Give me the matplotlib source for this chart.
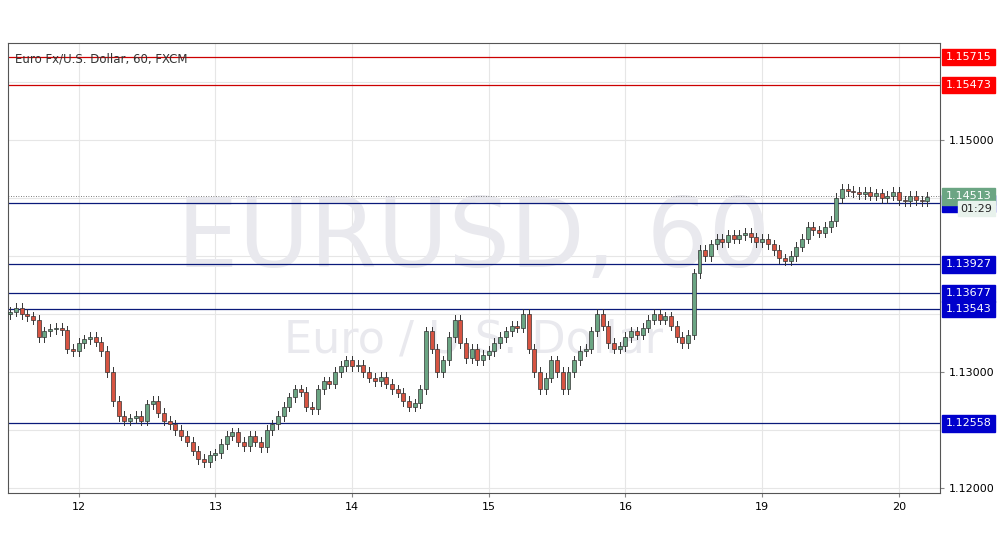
import matplotlib
matplotlib.use("Agg")
import matplotlib.pyplot as plt
from matplotlib.patches import Rectangle

closes = [1.1352,1.1355,1.1350,1.1348,1.1345,1.1330,1.1335,1.1337,1.1338,1.1336,1.1320,1.1318,
1.1325,1.1328,1.1330,1.1326,1.1318,1.1300,1.1275,1.1262,1.1258,1.1260,1.1262,1.1258,
1.1272,1.1275,1.1265,1.1258,1.1255,1.1250,1.1245,1.1240,1.1232,1.1225,1.1222,1.1228,
1.1230,1.1238,1.1245,1.1248,1.1240,1.1236,1.1245,1.1240,1.1235,1.1250,1.1255,1.1262,
1.1270,1.1278,1.1285,1.1283,1.1270,1.1268,1.1285,1.1292,1.1290,1.1300,1.1305,1.1310,
1.1305,1.1306,1.1300,1.1295,1.1292,1.1296,1.1290,1.1285,1.1282,1.1275,1.1270,1.1273,
1.1285,1.1335,1.1320,1.1300,1.1310,1.1330,1.1345,1.1325,1.1312,1.1320,1.1310,1.1315,
1.1318,1.1325,1.1330,1.1335,1.1340,1.1338,1.1350,1.1320,1.1300,1.1285,1.1295,1.1310,
1.1300,1.1285,1.1300,1.1310,1.1318,1.1320,1.1335,1.1350,1.1340,1.1325,1.1320,1.1322,
1.1330,1.1335,1.1332,1.1338,1.1345,1.1350,1.1345,1.1348,1.1340,1.1330,1.1325,1.1332,
1.1385,1.1405,1.1400,1.1410,1.1415,1.1412,1.1418,1.1415,1.1418,1.1420,1.1416,1.1412,
1.1415,1.1410,1.1405,1.1398,1.1396,1.1400,1.1408,1.1415,1.1425,1.1422,1.1420,1.1425,
1.1430,1.1450,1.1458,1.1456,1.1455,1.1453,1.1455,1.1452,1.1454,1.1450,1.1452,1.1455,
1.1448,1.1447,1.1452,1.1448,1.1447,1.1451]
first_open = 1.1350
day_labels = ["12","13","14","15","16","19","20"]
day_index = [12,36,60,84,108,132,156]
blue_levels = [1.14453,1.13927,1.13677,1.13543,1.12558]
red_levels = [1.15715,1.15473]
last_price = 1.14513
grid_ticks = [1.12000,1.12500,1.13000,1.13500,1.14000,1.14500,1.15000,1.15500]
label_ticks = [1.12000,1.13000,1.15000]

fig = plt.figure(figsize=(10.02,5.57), dpi=100)
ax = fig.add_axes([0.008,0.115,0.93,0.808])
ax.set_xlim(-0.4,163.2)
ax.set_ylim(1.11957,1.15836)

up, dn = "#6ba583", "#d75442"
opens = [first_open]+closes[:-1]
wick = 0.0004
for i,(o,c) in enumerate(zip(opens,closes)):
    hi, lo = max(o,c)+wick, min(o,c)-wick
    ax.plot([i,i],[lo,hi],color="#333333",lw=0.7,zorder=3)
    col = up if c>=o else dn
    h = max(abs(c-o),0.00005)
    ax.add_patch(Rectangle((i-0.35,min(o,c)),0.7,h,facecolor=col,edgecolor="#333333",lw=0.5,zorder=4))

for v in blue_levels:
    ax.axhline(v,color="#0a1a7a",lw=0.9,zorder=2)
for v in red_levels:
    ax.axhline(v,color="#cc0000",lw=0.9,zorder=2)
ax.axhline(last_price,color="#555555",lw=0.6,ls=(0,(1,2)),zorder=2)

ax.set_xticks(day_index)
ax.set_xticklabels(day_labels,fontsize=8)
ax.yaxis.tick_right()
ax.set_yticks(label_ticks)
ax.set_yticklabels([f"{t:.5f}" for t in label_ticks],fontsize=8)
ax.set_yticks(grid_ticks,minor=True)
ax.tick_params(length=3,color="#888888")
ax.tick_params(which="minor",length=0)
ax.grid(color="#e6e6e6",lw=0.8)
ax.grid(which="minor",axis="y",color="#e6e6e6",lw=0.8)
ax.set_axisbelow(True)
for s in ax.spines.values():
    s.set_color("#555555")

ax.text(0.5,0.56,"EURUSD, 60",transform=ax.transAxes,fontsize=70,color="#e9e9ee",ha="center",va="center",zorder=1)
ax.text(0.5,0.34,"Euro / U.S. Dollar",transform=ax.transAxes,fontsize=32,color="#e9e9ee",ha="center",va="center",zorder=1)
ax.text(0.008,0.965,"Euro Fx/U.S. Dollar, 60, FXCM",transform=ax.transAxes,fontsize=8.5,color="#333333",va="center")

def box(v,color,txt=None,tc="white"):
    ax.text(1.006,v,txt or f"{v:.5f}",transform=ax.get_yaxis_transform(),fontsize=8,color=tc,
            va="center",ha="left",zorder=10,clip_on=False,
            bbox=dict(boxstyle="square,pad=0.3",fc=color,ec=color))
for v in red_levels: box(v,"#ff0000")
for v in blue_levels: box(v,"#0000cc")
box(last_price,"#6ba583")
ax.text(1.022,last_price-0.00105,"01:29",transform=ax.get_yaxis_transform(),fontsize=8,color="#222222",
        va="center",ha="left",zorder=11,clip_on=False,
        bbox=dict(boxstyle="square,pad=0.25",fc="#e8f2ec",ec="#e8f2ec"))

fig.savefig("out.png",dpi=100)
